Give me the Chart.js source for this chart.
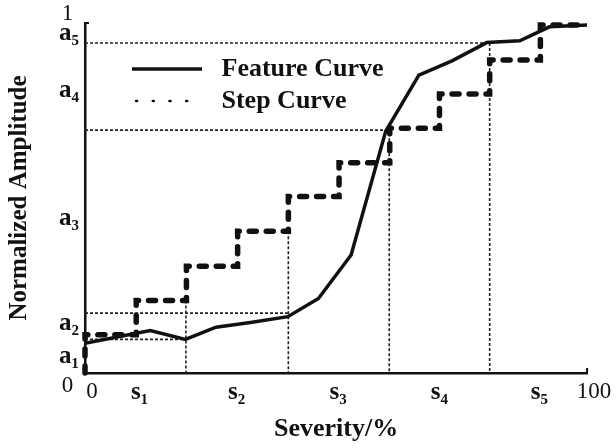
<!DOCTYPE html>
<html>
<head>
<meta charset="utf-8">
<script src="https://cdn.jsdelivr.net/npm/chart.js@4.4.1/dist/chart.umd.min.js"></script>
<style>
  body { margin: 0; background: #fff; }
</style>
</head>
<body>
<canvas id="myChart" width="616" height="448"></canvas>
<script>
// values (severity in %, amplitude normalized 0..1)
const featureX = [0, 13.0, 20.0, 26.1, 33.3, 40.4, 46.5, 53.0, 59.9, 66.5, 73.1, 80.0, 86.6, 92.5, 100];
const featureY = [0.085, 0.121, 0.096, 0.131, 0.145, 0.161, 0.213, 0.337, 0.691, 0.851, 0.892, 0.944, 0.949, 0.989, 0.994];

const stepX = [0, 0, 10.2, 20.2, 30.4, 40.5, 50.6, 60.7, 70.6, 80.6, 90.7, 100];
const stepY = [0, 0.109, 0.207, 0.305, 0.405, 0.504, 0.601, 0.699, 0.797, 0.894, 0.994, 0.994];

// dotted guides: horizontal at guideLevel up to guideX, vertical at guideX from guideTop down to 0
const guideX = [20.1, 40.5, 60.6, 80.6];
const guideLevel = [0.096, 0.171, 0.694, 0.943];
const guideTop = [0.207, 0.405, 0.699, 0.943];

const xTickValues = [1.4, 10.9, 30.2, 50.4, 70.6, 90.5, 101.4];
const xTickLabels = ["0", "s\u2081", "s\u2082", "s\u2083", "s\u2084", "s\u2085", "100"];
const yTickValues = [-0.037, 0.047, 0.141, 0.441, 0.806, 0.969, 1.027];
const yTickLabels = ["0 ", "a\u2081", "a\u2082", "a\u2083", "a\u2084", "a\u2085", "1 "];

const seriesNames = ["Feature Curve", "Step Curve"];

const serif = "'Liberation Serif', 'Times New Roman', serif";
Chart.defaults.color = "#111";

function toPoints(xs, ys) {
  return xs.map((x, i) => ({x: x, y: ys[i]}));
}

const guideSets = guideX.map((gx, i) => ({
  label: "guide",
  data: [
    {x: 0, y: guideLevel[i]}, {x: gx, y: guideLevel[i]},
    {x: gx, y: null},
    {x: gx, y: guideTop[i]}, {x: gx, y: 0}
  ],
  borderColor: "#222",
  borderWidth: 1.6,
  borderDash: [3, 2],
  pointRadius: 0,
  spanGaps: false,
  clip: false
}));

function numFont(c, last) {
  if (c.index === 0 || c.index === last) return {family: serif, size: 23};
  return {family: serif, size: 25, weight: "bold"};
}

// move the legend box into the upper left of the plot
const legendSpot = {
  id: "legendSpot",
  afterLayout(chart) {
    chart.legend.left = chart.chartArea.left + 41;
    chart.legend.top = chart.chartArea.top + 27;
  }
};

// little end caps on the axes (top of y, right end of x)
const axisCaps = {
  id: "axisCaps",
  afterDraw(chart) {
    const {ctx, chartArea} = chart;
    ctx.save();
    ctx.strokeStyle = "#111";
    ctx.lineWidth = 2;
    ctx.beginPath();
    ctx.moveTo(chartArea.left, chartArea.top);
    ctx.lineTo(chartArea.left + 4, chartArea.top);
    ctx.moveTo(chartArea.right, chartArea.bottom);
    ctx.lineTo(chartArea.right, chartArea.bottom - 5);
    ctx.stroke();
    ctx.restore();
  }
};

new Chart("myChart", {
  type: "line",
  data: {
    datasets: [{
      label: seriesNames[0],
      data: toPoints(featureX, featureY),
      borderColor: "#111",
      borderWidth: 3.5,
      pointRadius: 0,
      tension: 0
    }, {
      label: seriesNames[1],
      data: toPoints(stepX, stepY),
      stepped: "before",
      borderColor: "#111",
      borderWidth: 5.5,
      borderDash: [7, 10],
      borderCapStyle: "round",
      pointRadius: 0,
      clip: false
    }].concat(guideSets)
  },
  options: {
    responsive: false,
    animation: false,
    devicePixelRatio: 1,
    layout: {padding: {top: 23, right: 25, left: 0, bottom: 0}},
    plugins: {
      tooltip: {enabled: false},
      legend: {
        position: "chartArea",
        align: "start",
        labels: {
          usePointStyle: true,
          pointStyleWidth: 70,
          padding: 6,
          font: {family: serif, size: 26, weight: "bold"},
          generateLabels: chart => seriesNames.map((name, i) => ({
            text: " " + name,
            datasetIndex: i,
            pointStyle: "line",
            strokeStyle: "#111",
            fillStyle: "#111",
            fontColor: "#111",
            lineWidth: i === 0 ? 3.5 : 2.6,
            lineCap: i === 0 ? "butt" : "round",
            lineDash: i === 0 ? [] : [1, 15.7, 1, 15.7, 1, 15.7, 1, 30],
            lineDashOffset: i === 0 ? 0 : 77
          }))
        }
      }
    },
    scales: {
      x: {
        type: "linear",
        min: 0,
        max: 100,
        grid: {display: false, drawTicks: false},
        border: {display: true, color: "#111", width: 2.5},
        afterBuildTicks: scale => { scale.ticks = xTickValues.map(v => ({value: v})); },
        afterFit: scale => { scale.height = 75; },
        ticks: {
          autoSkip: false,
          maxRotation: 0,
          padding: 5,
          color: "#111",
          font: c => numFont(c, xTickLabels.length - 1),
          callback: (value, index) => xTickLabels[index]
        },
        title: {
          display: true,
          text: "Severity/%",
          color: "#111",
          font: {family: serif, size: 26, weight: "bold"},
          padding: {top: 0, bottom: 3}
        }
      },
      y: {
        type: "linear",
        min: 0,
        max: 1,
        grid: {display: false, drawTicks: false},
        border: {display: true, color: "#111", width: 2.5},
        afterBuildTicks: scale => { scale.ticks = yTickValues.map(v => ({value: v})); },
        afterFit: scale => { scale.width = 85; },
        ticks: {
          autoSkip: false,
          padding: 6,
          color: "#111",
          font: c => numFont(c, yTickLabels.length - 1),
          callback: (value, index) => yTickLabels[index]
        },
        title: {
          display: true,
          text: "Normalized Amplitude",
          color: "#111",
          font: {family: serif, size: 25, weight: "bold"},
          padding: {top: 5, bottom: 0}
        }
      }
    }
  },
  plugins: [legendSpot, axisCaps]
});
</script>
</body>
</html>
